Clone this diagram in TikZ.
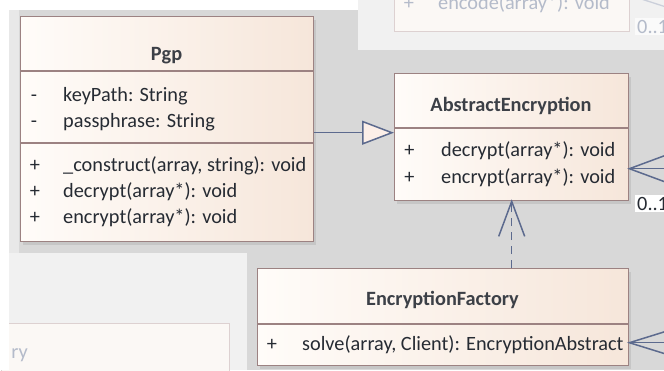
\documentclass[tikz,border=0pt]{standalone}
\usepackage{fontspec}
\setmainfont{Carlito}
\usetikzlibrary{arrows.meta,shadows,calc}

\definecolor{canvas}{HTML}{D8D8D8}
\definecolor{pane}{HTML}{F1F1F1}
\definecolor{edge}{HTML}{9C8282}
\definecolor{fillL}{HTML}{FFFCF9}
\definecolor{fillR}{HTML}{F6E6DA}
\definecolor{ink}{HTML}{262B33}
\definecolor{linkc}{HTML}{5C6A8E}
\definecolor{ghost}{HTML}{B4BBCA}
\definecolor{ghostedge}{HTML}{DDD1D1}
\definecolor{ghostfill}{HTML}{FBF8F5}
\definecolor{trifill}{HTML}{FCEFE8}

\tikzset{
  classbox/.style={draw=edge, line width=1.4pt, left color=fillL, right color=fillR,
    anchor=north west, inner sep=0pt,
    drop shadow={shadow xshift=2pt, shadow yshift=-3pt, opacity=0.2}},
  ghostbox/.style={draw=ghostedge, fill=ghostfill, line width=1pt, inner sep=0pt},
  divider/.style={draw=edge, line width=1.4pt},
  txt/.style={inner sep=0pt, text=ink, font=\fontsize{20.3}{24}\selectfont},
  title/.style={txt, text=ink!90, font=\fontsize{20.3}{24}\selectfont\bfseries, anchor=base},
  member/.style={txt, anchor=base west},
  vis/.style={txt, anchor=base},
  faded/.style={text=ghost},
  linkline/.style={draw=linkc, line width=1.5pt, line join=miter},
  ghostline/.style={draw=ghost!70, line width=1.3pt},
  mult/.style={txt, anchor=base west, fill=white, inner sep=2pt},
}

\begin{document}
\begin{tikzpicture}[x=1pt, y=-1pt]
  \useasboundingbox (0,0) rectangle (664,370);
  \clip (0,0) rectangle (664,370);

  % diagram background and package panes
  \fill[white] (0,0) rectangle (664,370);
  \fill[canvas] (9,10) rectangle (664,370);
  \fill[canvas!60!white] (9,10) rectangle (19,253);
  \fill[pane] (358,0) rectangle (664,50);
  \fill[pane] (9,253) rectangle (247,370);

  % partly visible neighbouring classes
  \node[ghostbox, anchor=south west, minimum width=235pt, minimum height=45pt] (encoder) at (394,32) {};
  \node[vis, faded] (encVis) at (409,9) {+};
  \node[member, faded] (encOp) at (438,9) {encode(array*): void};
  \coordinate (encTip) at (629,-5);
  \draw[ghostline] (encTip) -- ++(37,12);
  \node[mult, faded, fill=white!98!black] (encMult) at (635,33) {0..1};

  \node[ghostbox, anchor=north west, minimum width=228pt, minimum height=60pt] (factoryPane) at (1,323) {};
  \node[txt, faded, anchor=base east] (paneName) at (28,358) {ry};
  \fill[white] (0,0) rectangle (9,370);
  \fill[white] (0,0) rectangle (358,10);

  % class Pgp
  \node[classbox, minimum width=293pt, minimum height=225pt] (pgp) at (20,16) {};
  \draw[divider] (pgp.west |- 0,71) -- (pgp.east |- 0,71);
  \draw[divider] (pgp.west |- 0,143) -- (pgp.east |- 0,143);
  \node[title] (pgpName) at (166.5,60) {Pgp};
  \node[vis] (pgpV1) at (34,101.5) {-};
  \node[member] (pgpA1) at (63,101.5) {keyPath: String};
  \node[vis] (pgpV2) at (34,127) {-};
  \node[member] (pgpA2) at (63,127) {passphrase: String};
  \node[vis] (pgpV3) at (35,171) {+};
  \node[member] (pgpO1) at (63,171) {\_construct(array, string): void};
  \node[vis] (pgpV4) at (35,197) {+};
  \node[member] (pgpO2) at (63,197) {decrypt(array*): void};
  \node[vis] (pgpV5) at (35,223) {+};
  \node[member] (pgpO3) at (63,223) {encrypt(array*): void};

  % class AbstractEncryption
  \node[classbox, minimum width=234pt, minimum height=127pt] (absenc) at (394,73) {};
  \draw[divider] (absenc.west |- 0,128) -- (absenc.east |- 0,128);
  \node[title] (absName) at (511,111) {AbstractEncryption};
  \node[vis] (absV1) at (409.5,156) {+};
  \node[member] (absO1) at (441,156) {decrypt(array*): void};
  \node[vis] (absV2) at (409.5,183) {+};
  \node[member] (absO2) at (441,183) {encrypt(array*): void};

  % class EncryptionFactory
  \node[classbox, minimum width=371pt, minimum height=97pt] (factory) at (257,268) {};
  \draw[divider] (factory.west |- 0,324) -- (factory.east |- 0,324);
  \node[title] (facName) at (442.5,305) {EncryptionFactory};
  \node[vis] (facV1) at (272,350) {+};
  \node[member] (facO1) at (302,350) {solve(array, Client): EncryptionAbstract};

  % generalization Pgp -> AbstractEncryption
  \coordinate (genStart) at ($(pgp.east)+(0,3.5)$);
  \draw[linkline, -{Triangle[length=32pt, width=24pt, fill=trifill]}]
    (genStart) -- (genStart -| absenc.west);

  % realization EncryptionFactory -> AbstractEncryption
  \draw[linkline, dash pattern=on 8pt off 6pt] (absenc.south |- factory.north) -- (absenc.south);
  \draw[linkline] ($(absenc.south)+(-13,35)$) -- (absenc.south) -- ($(absenc.south)+(13,35)$);

  % associations entering from the right
  \coordinate (absTip) at ($(absenc.east)+(0,31.5)$);
  \coordinate (absFar) at ($(absTip)+(50,0)$);
  \draw[linkline] (absFar) -- (absTip);
  \draw[linkline] ($(absTip)+(37,-13.7)$) -- (absTip) -- ($(absTip)+(37,13.7)$);
  \node[mult] (absMult) at (635,210) {0..1};

  \coordinate (facTip) at ($(factory.east)+(0,25.5)$);
  \coordinate (facFar) at ($(facTip)+(50,0)$);
  \draw[linkline] (facFar) -- (facTip);
  \draw[linkline] ($(facTip)+(37,-11.5)$) -- (facTip) -- ($(facTip)+(37,11.5)$);
\end{tikzpicture}
\end{document}
